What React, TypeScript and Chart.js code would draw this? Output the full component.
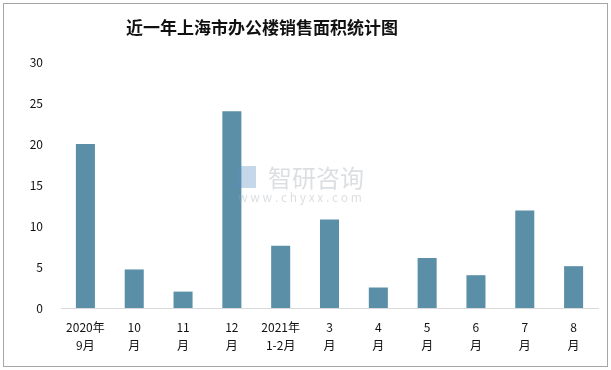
import React, { useEffect, useRef } from "react";
import { Chart, registerables } from "chart.js";

Chart.register(...registerables);

const TITLE = "近一年上海市办公楼销售面积统计图";
const categories: string[][] = [
  ["2020年", "9月"],
  ["10", "月"],
  ["11", "月"],
  ["12", "月"],
  ["2021年", "1-2月"],
  ["3", "月"],
  ["4", "月"],
  ["5", "月"],
  ["6", "月"],
  ["7", "月"],
  ["8", "月"],
];
const values: number[] = [20, 4.7, 2, 24, 7.6, 10.8, 2.5, 6.1, 4, 11.9, 5.1];
const yTicks: number[] = [0, 5, 10, 15, 20, 25, 30];

const FONT = "'Noto Sans CJK SC', 'Noto Sans', sans-serif";

const framePlugin = {
  id: "frame",
  beforeDraw(chart: any) {
    const ctx = chart.ctx;
    ctx.save();
    ctx.fillStyle = "#ffffff";
    ctx.fillRect(0, 0, chart.width, chart.height);
    ctx.strokeStyle = "#a6a6a6";
    ctx.lineWidth = 1;
    ctx.strokeRect(3.5, 3.5, chart.width - 7, chart.height - 7);
    ctx.fillStyle = "#111111";
    ctx.font = `bold 17px ${FONT}`;
    ctx.textAlign = "center";
    ctx.textBaseline = "middle";
    ctx.fillText(TITLE, 262, 28);
    ctx.restore();
  },
  afterDatasetsDraw(chart: any) {
    const ctx = chart.ctx;
    ctx.save();
    ctx.globalAlpha = 0.35;
    ctx.fillStyle = "#9aa3ab";
    ctx.font = `24px ${FONT}`;
    ctx.textAlign = "left";
    ctx.textBaseline = "middle";
    ctx.fillText("智研咨询", 268, 178);
    ctx.font = `12px ${FONT}`;
    ctx.fillText("w w w . c h y x x . c o m", 238, 197);
    ctx.fillStyle = "#5a8fc0";
    ctx.fillRect(236, 166, 20, 22);
    ctx.restore();
  },
};

export default function App() {
  const ref = useRef<HTMLCanvasElement>(null);
  useEffect(() => {
    document.body.style.margin = "0";
    const chart = new Chart(ref.current!, {
      type: "bar",
      data: {
        labels: categories,
        datasets: [
          {
            data: values,
            backgroundColor: "#5b8fa7",
            categoryPercentage: 0.39,
            barPercentage: 1,
          },
        ],
      },
      options: {
        animation: false,
        responsive: false,
        layout: { padding: { top: 62, right: 13, bottom: 0, left: 1 } },
        plugins: { legend: { display: false }, tooltip: { enabled: false } },
        scales: {
          x: {
            grid: { display: false, drawTicks: false },
            border: { display: true, color: "#d9d9d9", width: 1 },
            ticks: {
              color: "#111111",
              font: { family: FONT, size: 12, lineHeight: 1.5 },
              padding: 10,
              maxRotation: 0,
              autoSkip: false,
            },
            afterFit: (s: any) => {
              s.height = 62;
            },
          },
          y: {
            min: 0,
            max: 30,
            grid: { display: false, drawTicks: false },
            border: { display: false },
            ticks: {
              stepSize: 5,
              color: "#111111",
              font: { family: FONT, size: 12 },
              padding: 18,
              callback: (v: any) => (yTicks.includes(v) ? String(v) : ""),
            },
            afterFit: (s: any) => {
              s.width = 60;
            },
          },
        },
      },
      plugins: [framePlugin],
    });
    return () => chart.destroy();
  }, []);
  return <canvas ref={ref} width={611} height={370} style={{ display: "block" }} />;
}
